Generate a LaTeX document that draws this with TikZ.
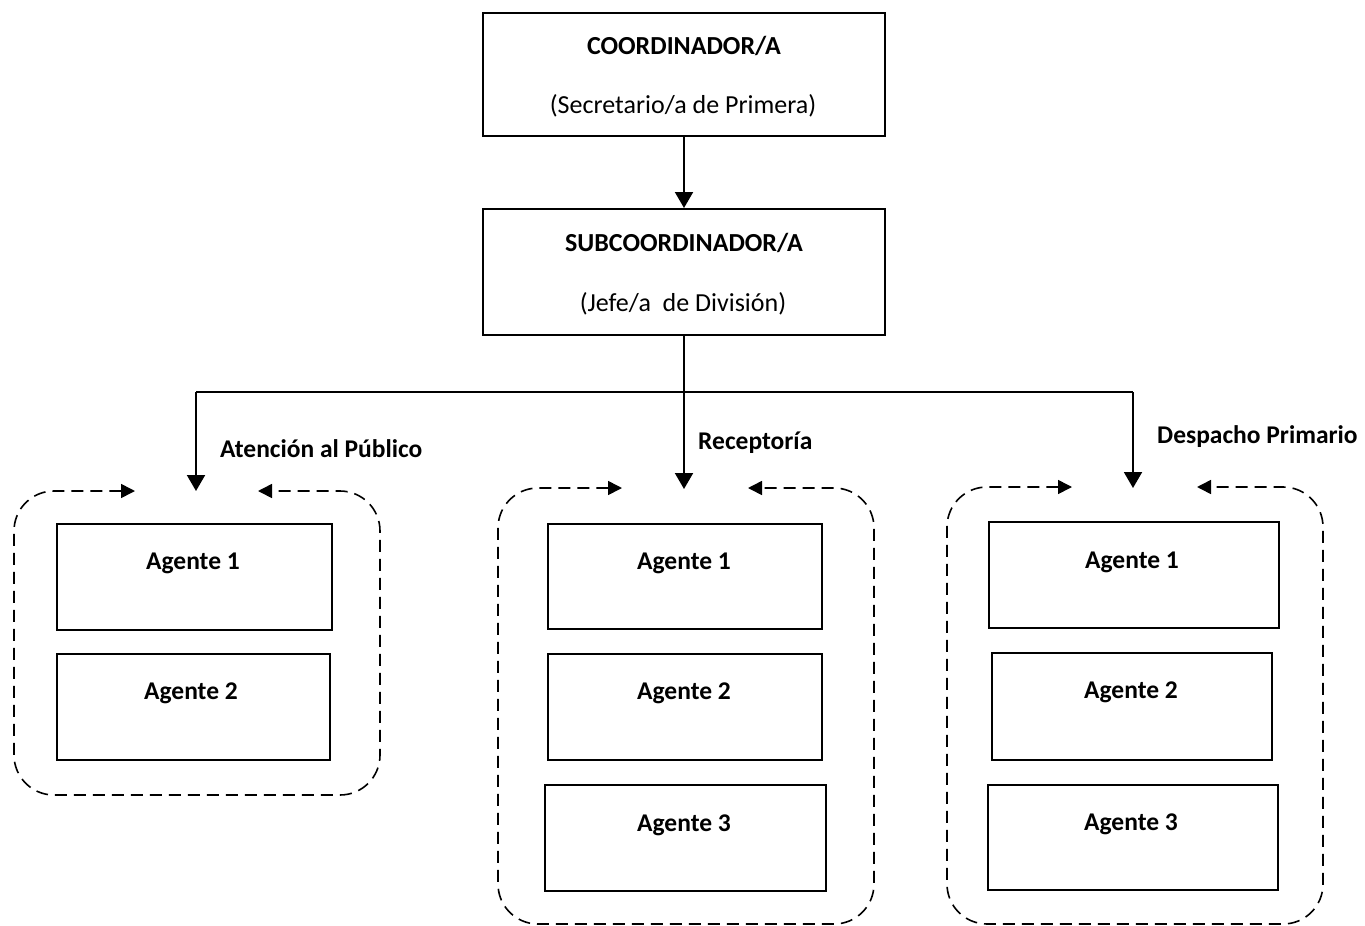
\documentclass[tikz,border=0pt]{standalone}
\usepackage{fontspec}
\setmainfont{Carlito}
\usetikzlibrary{arrows.meta}
\begin{document}
\begin{tikzpicture}[x=1pt,y=-1pt,
 box/.style={draw, line width=2pt, inner sep=0pt},
 ttl/.style={font=\fontsize{26}{30}\selectfont\bfseries, inner sep=0pt},
 subt/.style={font=\fontsize{26}{30}\selectfont, inner sep=0pt},
 lbl/.style={font=\fontsize{25.5}{30}\selectfont\bfseries, inner sep=0pt, anchor=west},
 agt/.style={font=\fontsize{25.5}{30}\selectfont\bfseries, inner sep=0pt},
 conn/.style={line width=2pt, -{Triangle[length=16pt,width=18pt]}},
 grp/.style={dash pattern=on 12pt off 7pt, line width=1.6pt, rounded corners=40pt,
   {Triangle[length=14pt,width=14pt]}-{Triangle[length=14pt,width=14pt]}},
]
\useasboundingbox (0,0) rectangle (1365,926);

% top boxes
\node[box, minimum width=402pt, minimum height=123pt] (coord) at (684,74.5) {};
\node[ttl] (coordt) at (684,46) {COORDINADOR/A};
\node[subt] (coords) at (683,106) {(Secretario/a de Primera)};

\node[box, minimum width=402pt, minimum height=126pt] (subc) at (684,272) {};
\node[ttl] (subct) at (684,243) {SUBCOORDINADOR/A};
\node[subt] (subcs) at (683,304) {(Jefe/a\ \ de División)};

\draw[conn] (coord.south) -- (subc.north);

% branch
\coordinate (hl) at (196,392);
\coordinate (hm) at (684,392);
\coordinate (hr) at (1133,392);
\coordinate (tl) at (196,491);
\coordinate (tm) at (684,489);
\coordinate (tr) at (1133,488);
\draw[line width=2pt] (subc.south) -- (hm);
\draw[line width=2pt] (hl) -- (hr);
\draw[conn] (hl) -- (tl);
\draw[conn] (hm) -- (tm);
\draw[conn] (hr) -- (tr);

\node[lbl] (l1) at (220,449) {Atención al Público};
\node[lbl] (l2) at (698,443) {Receptoría};
\node[lbl] (l3) at (1157,437) {Despacho Primario};

% group frames
\coordinate (g1a) at (135,491); \coordinate (g1b) at (258,491);
\draw[grp] (g1a) -- (14,491) -- (14,795) -- (380,795) -- (380,491) -- (g1b);
\coordinate (g2a) at (622,488); \coordinate (g2b) at (748,488);
\draw[grp] (g2a) -- (498,488) -- (498,924) -- (874,924) -- (874,488) -- (g2b);
\coordinate (g3a) at (1072,487); \coordinate (g3b) at (1197,487);
\draw[grp] (g3a) -- (947,487) -- (947,924) -- (1323,924) -- (1323,487) -- (g3b);

% agents
\node[box, minimum width=275pt, minimum height=106pt] (a11) at (194.5,577) {};
\node[agt] (a11t) at (193,563) {Agente 1};
\node[box, minimum width=273pt, minimum height=106pt] (a12) at (193.5,707) {};
\node[agt] (a12t) at (191,693) {Agente 2};

\node[box, minimum width=274pt, minimum height=105pt] (a21) at (685,576.5) {};
\node[agt] (a21t) at (684,563) {Agente 1};
\node[box, minimum width=274pt, minimum height=106pt] (a22) at (685,707) {};
\node[agt] (a22t) at (684,693) {Agente 2};
\node[box, minimum width=281pt, minimum height=106pt] (a23) at (685.5,838) {};
\node[agt] (a23t) at (684,825) {Agente 3};

\node[box, minimum width=290pt, minimum height=106pt] (a31) at (1134,575) {};
\node[agt] (a31t) at (1132,562) {Agente 1};
\node[box, minimum width=280pt, minimum height=107pt] (a32) at (1132,706.5) {};
\node[agt] (a32t) at (1131,692) {Agente 2};
\node[box, minimum width=290pt, minimum height=105pt] (a33) at (1133,837.5) {};
\node[agt] (a33t) at (1131,824) {Agente 3};
\end{tikzpicture}
\end{document}
